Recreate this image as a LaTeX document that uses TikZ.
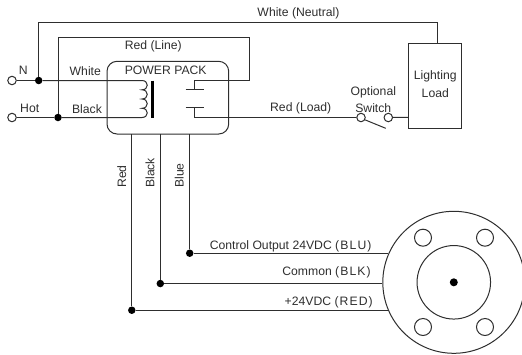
\documentclass[tikz,border=0pt]{standalone}
\usepackage{fontspec}
\setmainfont{Liberation Sans}
\newfontfamily\spaced[LetterSpace=9]{Liberation Sans}
\definecolor{ink}{HTML}{2E2E2E}
\tikzset{
  wire/.style={
    draw=ink,
    line width=1pt,
  },
  solid dot/.style={
    circle,
    fill=black,
    inner sep=0pt,
    minimum size=#1pt,
  },
  solid dot/.default=7.5,
  open end/.style={
    circle,
    draw=ink,
    fill=white,
    line width=1pt,
    inner sep=0pt,
    minimum size=8.5pt,
  },
  wire label/.style={
    text=ink,
    inner sep=0pt,
    font=\fontsize{12.2}{14}\selectfont,
  },
  hole/.style={
    circle,
    draw=ink,
    line width=1pt,
    inner sep=0pt,
    minimum size=#1pt,
  },
}

\begin{document}
\begin{tikzpicture}[x=1pt,y=-1pt]
        \useasboundingbox (0,0) rectangle (522,354);

        \node [open end] (n in) at (12,80.5) {};
        \node [open end] (hot in) at (12,117.5) {};
        \node [solid dot] (n dot) at (38.7,80.5) {};
        \node [solid dot] (hot dot) at (58,117.5) {};

        \draw [wire, rounded corners=10pt] (107,61.3) rectangle (228.7,134);
        \node [hole=142] (sensor) at (453.8,282.3) {};
        \node [hole=73.5] (sensor hub) at (sensor) {};
        \node [solid dot=8] (sensor pin) at (sensor) {};
        \node [hole=17] (hole a) at (423,237.7) {};
        \node [hole=17] (hole b) at (485,237.7) {};
        \node [hole=17] (hole c) at (423,327) {};
        \node [hole=17] (hole d) at (485,327) {};

        \draw [wire] (408,43.5) rectangle (461.7,128.5);
        \coordinate (load top) at (437.7,43.5);
        \coordinate (load side) at (408,117.3);

        % supply side
        \draw [wire] (n in) -- (n dot);
        \draw [wire] (hot in) -- (hot dot);
        \draw [wire] (n dot) |- (load top |- 0,22.5) -- (load top);
        \draw [wire] (n dot) -- (142,80.5)
            .. controls (149,80.5) and (149,89.8) .. (142,89.8)
            .. controls (149,89.8) and (149,99) .. (142,99)
            .. controls (149,99) and (149,108.3) .. (142,108.3)
            .. controls (149,108.3) and (149,117.5) .. (142,117.5) -- (hot dot);
        \draw [line width=3.6pt, draw=black] (152.3,80.7) -- (152.3,117.7);

        % contacts
        \draw [wire] (hot dot) |- (249.3,37) |- (194.3,80) -- (194.3,89.5);
        \draw [wire] (185.7,89.5) -- (204,89.5);
        \draw [wire] (185.7,107.3) -- (204,107.3);
        \node [open end] (sw a) at (361,117.5) {};
        \node [open end] (sw b) at (388.3,117.5) {};
        \draw [wire] (194.3,107.3) |- (sw a);
        \draw [wire] (sw b) -- (load side);
        \draw [wire] (sw a.-30) -- (385.7,128.3);

        % sensor leads
        \node [solid dot] (blu dot) at (189.7,0 |- sensor.156) {};
        \node [solid dot] (blk dot) at (160.3,0 |- sensor.181) {};
        \node [solid dot] (red dot) at (131.8,0 |- sensor.203) {};
        \draw [wire] (blu dot |- 0,134) -- (blu dot) -- (sensor.156);
        \draw [wire] (blk dot |- 0,134) -- (blk dot) -- (sensor.181);
        \draw [wire] (red dot |- 0,134) -- (red dot) -- (sensor.203);

        \node [wire label] (n text) at (23.3,70.7) {N};
        \node [wire label] (hot text) at (29.7,108.7) {Hot};
        \node [wire label] (white text) at (85.3,70.7) {White};
        \node [wire label] (black text) at (87,108.7) {Black};
        \node [wire label] (line text) at (153.3,46) {Red (Line)};
        \node [wire label] (pack text) at (165.7,70.7) {POWER PACK};
        \node [wire label] (neutral text) at (298.5,13) {White (Neutral)};
        \node [wire label] (load text) at (300.7,108) {Red (Load)};
        \node [wire label] (opt text) at (373.3,92.7) {Optional};
        \node [wire label] (sw text) at (373.3,108) {Switch};
        \node [wire label] (light text) at (435.3,76) {Lighting};
        \node [wire label] (lamp text) at (435.3,93) {Load};
        \node [wire label, rotate=90, anchor=west] (red text) at (121.7,188) {Red};
        \node [wire label, rotate=90, anchor=west] (black lead) at (150,188) {Black};
        \node [wire label, rotate=90, anchor=west] (blue text) at (179.3,188) {Blue};
        \node [wire label, anchor=east] (ctl text) at (371.7,246) {Control Output 24VDC {\spaced(BLU)}};
        \node [wire label, anchor=east] (com text) at (371,272) {Common {\spaced(BLK)}};
        \node [wire label, anchor=east] (pos text) at (373,302) {+24VDC {\spaced(RED)}};
    \end{tikzpicture}
\end{document}
